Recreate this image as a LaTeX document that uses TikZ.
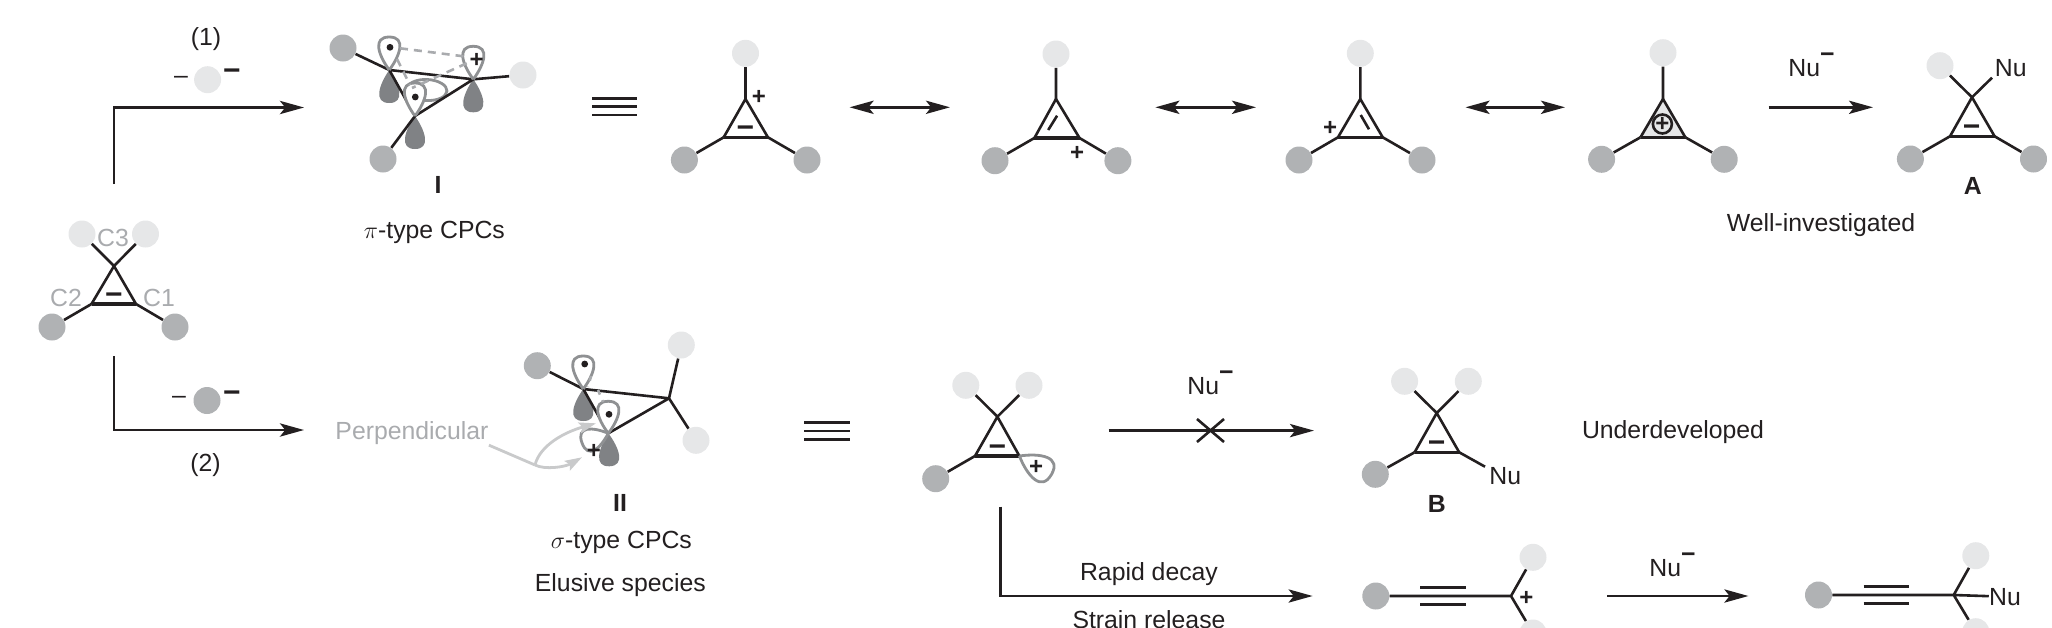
\documentclass[tikz,border=0pt]{standalone}
\usepackage{fontspec}
\setmainfont{Liberation Sans}
\usetikzlibrary{arrows.meta}
\definecolor{ink}{HTML}{231F20}
\definecolor{ltball}{HTML}{E6E7E8}
\definecolor{dkball}{HTML}{B0B2B4}
\definecolor{lobedk}{HTML}{808285}
\definecolor{lobeln}{HTML}{8F9193}
\definecolor{lbl}{HTML}{A9ABAE}
\definecolor{perp}{HTML}{C9CACB}
\tikzset{
  lball/.style={circle,fill=ltball,minimum size=13.5pt,inner sep=0pt},
  dball/.style={circle,fill=dkball,minimum size=13.5pt,inner sep=0pt},
  bond/.style={draw=ink,line width=1.3pt},
  base/.style={draw=ink,line width=1.6pt},
  rxn/.style={draw=ink,line width=1.3pt,-{Stealth[length=12pt,width=6.6pt,inset=2.6pt]}},
  res/.style={draw=ink,line width=1.3pt,{Stealth[length=12pt,width=6.6pt,inset=2.6pt]}-{Stealth[length=12pt,width=6.6pt,inset=2.6pt]}},
  txt/.style={font=\fontsize{12.4}{14}\selectfont,text=ink,inner sep=0pt},
  glbl/.style={font=\fontsize{12.4}{14}\selectfont,text=lbl,inner sep=0pt},
  bld/.style={font=\fontsize{12.4}{14}\selectfont\bfseries,text=ink,inner sep=0pt},
  chargeminus/.style={font=\fontsize{15}{15}\selectfont\bfseries,text=ink,inner sep=0pt,yshift=-1.2pt},
  chargeplus/.style={font=\fontsize{12}{14}\selectfont\bfseries,text=ink,inner sep=0pt,yshift=-1pt},
  lobewhite/.style={fill=white,draw=lobeln,line width=1.4pt},
  lobedark/.style={fill=lobedk},
  gdash/.style={draw=lbl,line width=1.3pt,dash pattern=on 4pt off 3pt},
  parrow/.style={draw=perp,line width=1.4pt,-{Stealth[length=8.5pt,width=5.5pt,inset=1.5pt]}},
  elec/.style={circle,fill=ink,minimum size=3.4pt,inner sep=0pt},
}
\newcommand{\teardrop}[5]{\path[#5,shift={(#1)},rotate=#2] (0,0) .. controls (.45*#3,.55*#4) and (#3,.85*#4) .. (#3,0) .. controls (#3,-.85*#4) and (.45*#3,-.55*#4) .. (0,0);}
\newcommand{\tribar}[4]{% x1, x2, y, gap
  \draw[bond] (#1,#3-#4) -- (#2,#3-#4) (#1,#3+#4) -- (#2,#3+#4);}
\newcommand{\equivsign}[4]{\draw[line width=1.3pt,draw=ink] (#1,#3-#4) -- (#2,#3-#4) (#1,#3) -- (#2,#3) (#1,#3+#4) -- (#2,#3+#4);}
\newcommand{\cprop}[4]{% prefix, apex, left, right
  \coordinate (#1a) at (#2); \coordinate (#1l) at (#3); \coordinate (#1r) at (#4);
  \draw[bond,line join=miter] (#1a) -- (#1l) (#1a) -- (#1r);
  \draw[base] (#1l) -- (#1r);}
\newcommand{\bigminus}[2]{\node[chargeminus] (#1) at (#2) {−};}
\newcommand{\bigplus}[2]{\node[chargeplus] (#1) at (#2) {+};}
\begin{document}
\begin{tikzpicture}[x=0.5pt,y=-0.5pt]
\useasboundingbox (0,0) rectangle (2052,627);
% ---------- starting material
\cprop{s}{114,266}{91.5,304}{136,304}
\node[lball] (s1) at (82,234) {};
\node[lball] (s2) at (145.5,234) {};
\node[dball] (s3) at (52,327) {};
\node[dball] (s4) at (175,327) {};
\draw[bond] (sa) -- (s1) (sa) -- (s2) (sl) -- (s3) (sr) -- (s4);
\node[glbl] (c3) at (113,238) {C3};
\node[glbl] (c2) at (66,298) {C2};
\node[glbl] (c1) at (159,298) {C1};
\bigminus{sm}{114,296}
% ---------- route 1
\coordinate (r1s) at (114,184); \coordinate (r1c) at (114,107.5); \coordinate (r1e) at (304,107.5);
\draw[rxn] (r1s) -- (r1c) -- (r1e);
\node[txt] (t1) at (206,39.5) {(1)};
\node[txt] (d1) at (181,80) {–};
\node[lball] (b1) at (207.6,79.7) {};
\bigminus{m1}{232,72.5}
% ---------- route 2
\coordinate (r2s) at (114,356); \coordinate (r2c) at (114,430); \coordinate (r2e) at (304,430);
\draw[rxn] (r2s) -- (r2c) -- (r2e);
\node[txt] (t2) at (205.5,465.5) {(2)};
\node[txt] (d2) at (179,400) {–};
\node[dball] (b2) at (207,400.5) {};
\bigminus{m2}{232,394.5}
% ---------- species I
\coordinate (Ia) at (389.3,70); \coordinate (Ib) at (473.3,79.3); \coordinate (Ic) at (415,116);
\node[dball] (I1) at (343,48) {};
\node[lball] (I2) at (523,75) {};
\node[dball] (I3) at (383,159) {};
\teardrop{Ia}{-90}{33}{19}{lobedark}
\teardrop{Ib}{-90}{33}{19}{lobedark}
\teardrop{Ic}{-90}{33}{19}{lobedark}
\draw[lobeln,line width=1.4pt,rotate around={-3:(427,90)}] (427,90) ellipse [x radius=20,y radius=10.5];
\draw[bond] (I1) -- (Ia) (Ia) -- (Ib) (Ia) -- (Ic) (Ib) -- (Ic) (Ib) -- (I2) (Ic) -- (I3);
\teardrop{Ia}{90}{33}{20}{lobewhite}
\teardrop{Ib}{90}{33}{20}{lobewhite}
\teardrop{Ic}{90}{33}{20}{lobewhite}
\node[elec] (Id1) at (390,47.3) {};
\node[elec] (Id2) at (415.3,97) {};
\bigplus{Ip}{476.7,58.3}
\coordinate (Ix1) at (400,48.3); \coordinate (Ix2) at (466.7,56.7);
\coordinate (Ix3) at (466.7,63.3); \coordinate (Ix4) at (412,88);
\coordinate (Ix5) at (397,59); \coordinate (Ix6) at (410,85);
\draw[gdash] (Ix1) -- (Ix2) (Ix3) -- (Ix4) (Ix5) -- (Ix6);
\node[bld] (Il) at (438,185) {I};
\node[txt] (Ity) at (434.4,232.5) {$\pi$-type CPCs};
\equivsign{592}{637}{106.7}{8.4}
% ---------- resonance 1
\cprop{p}{745.5,99}{723.7,137.3}{767.9,137.3}
\node[lball] (p1) at (745.5,53.3) {};
\node[dball] (p2) at (684.4,160) {};
\node[dball] (p3) at (807,160) {};
\draw[bond] (pa) -- (p1) (pl) -- (p2) (pr) -- (p3);
\bigplus{pp}{759,95}
\bigminus{pm}{745.5,129.3}
\coordinate (da1) at (849.6,107.3); \coordinate (da2) at (950,107.3);
\draw[res] (da1) -- (da2);
% ---------- resonance 2
\cprop{q}{1056,99}{1034.4,138}{1079.5,138}
\node[lball] (q1) at (1056,54) {};
\node[dball] (q2) at (995,160.7) {};
\node[dball] (q3) at (1117.9,160.7) {};
\draw[bond] (qa) -- (q1) (ql) -- (q2) (qr) -- (q3);
\coordinate (qi1) at (1057.1,115.7); \coordinate (qi2) at (1048.2,130);
\draw[bond] (qi1) -- (qi2);
\bigplus{qp}{1077,151.7}
\coordinate (db1) at (1155.4,107.3); \coordinate (db2) at (1256,107.3);
\draw[res] (db1) -- (db2);
% ---------- resonance 3
\cprop{u}{1360.3,99}{1338,137.3}{1382.7,137.3}
\node[lball] (u1) at (1360.3,53.3) {};
\node[dball] (u2) at (1299,160) {};
\node[dball] (u3) at (1422,160) {};
\draw[bond] (ua) -- (u1) (ul) -- (u2) (ur) -- (u3);
\coordinate (ui1) at (1360.7,115); \coordinate (ui2) at (1369,129.3);
\draw[bond] (ui1) -- (ui2);
\bigplus{up}{1330,126.7}
\coordinate (dc1) at (1465.5,107.3); \coordinate (dc2) at (1565,107.3);
\draw[res] (dc1) -- (dc2);
% ---------- resonance 4
\coordinate (va) at (1663,99); \coordinate (vl) at (1640.5,137.3); \coordinate (vr) at (1685.3,137.3);
\fill[ltball] (va) -- (vl) -- (vr) -- cycle;
\draw[bond] (va) -- (vl) (va) -- (vr);
\draw[base] (vl) -- (vr);
\node[lball] (v1) at (1663,52.7) {};
\node[dball] (v2) at (1601.6,159.3) {};
\node[dball] (v3) at (1724.2,159.3) {};
\draw[bond] (va) -- (v1) (vl) -- (v2) (vr) -- (v3);
\node[circle,draw=ink,line width=1.3pt,minimum size=9.5pt,inner sep=0pt] (vc) at (1662.4,124) {};
\node[chargeplus,yshift=1pt] (vp) at (1662.4,124) {+};
\coordinate (ra1) at (1768.5,107.3); \coordinate (ra2) at (1873,107.3);
\draw[rxn] (ra1) -- (ra2);
\node[txt,anchor=west] (nu1) at (1788,65.3) {Nu\raisebox{7pt}{\textbf{−}}};
% ---------- A
\cprop{w}{1972,97.3}{1950,136.3}{1994.6,136.3}
\node[lball] (w1) at (1940,65.7) {};
\node[txt] (wn) at (2010.7,67.7) {Nu};
\coordinate (wne) at (1992,77.7);
\node[dball] (w2) at (1910.4,159) {};
\node[dball] (w3) at (2033.5,159) {};
\draw[bond] (wa) -- (w1) (wa) -- (wne) (wl) -- (w2) (wr) -- (w3);
\bigminus{wm}{1971.7,128.3}
\node[bld] (wA) at (1972.7,185.7) {A};
\node[txt] (wi) at (1821,224.8) {Well-investigated};
% ---------- species II
\coordinate (Ja) at (583.3,389); \coordinate (Jb) at (669,398.3); \coordinate (Jc) at (608.3,433.3);
\node[dball] (J1) at (537.3,365.7) {};
\node[lball] (J2) at (681.3,345) {};
\node[lball] (J3) at (696,440.3) {};
\teardrop{Ja}{-90}{32}{19}{lobedark}
\teardrop{Jc}{-88}{33}{19}{lobedark}
\draw[bond] (J1) -- (Ja) (Ja) -- (Jb) (Ja) -- (Jc) (Jb) -- (Jc) (Jb) -- (J2) (Jb) -- (J3);
\teardrop{Ja}{90}{33}{20}{lobewhite}
\teardrop{Jc}{90}{32}{20}{lobewhite}
\teardrop{Jc}{-160}{28}{21}{lobewhite}
\node[elec] (Jd1) at (584.7,364) {};
\node[elec] (Jd2) at (609,414.3) {};
\bigplus{Jp}{594,449}
\coordinate (Jx1) at (591,376); \coordinate (Jx2) at (588,387);
\coordinate (Jx3) at (598,390); \coordinate (Jx4) at (603,402);
\draw[gdash,dash pattern=on 2.5pt off 3pt] (Jx1) -- (Jx2) (Jx3) -- (Jx4);
\node[glbl] (perpT) at (412,433.2) {Perpendicular};
\coordinate (pv) at (535,465);
\coordinate (pe1) at (596,423.3); \coordinate (pe2) at (582,457.3);
\draw[draw=perp,line width=1.4pt] (perpT.south east) -- (pv);
\draw[parrow] (pv) .. controls (540,445) and (565,432) .. (pe1);
\draw[parrow] (pv) .. controls (545,470) and (565,467) .. (pe2);
\node[bld] (Jl) at (620,503.3) {II};
\node[txt] (Jty) at (621.4,542.5) {$\sigma$-type CPCs};
\node[txt] (Jel) at (620.4,585.5) {Elusive species};
\equivsign{804}{849.5}{431}{8.3}
% ---------- vinyl cation form
\cprop{k}{997.4,416.7}{975,456}{1019.4,456}
\node[lball] (k1) at (965.8,385.3) {};
\node[lball] (k2) at (1029,385.3) {};
\node[dball] (k3) at (935.7,478.7) {};
\draw[bond] (ka) -- (k1) (ka) -- (k2) (kl) -- (k3);
\teardrop{kr}{-30}{37}{24}{lobewhite}
\bigminus{km}{997.4,448.3}
\bigplus{kp}{1036,465}
\coordinate (xa1) at (1108.5,430.6); \coordinate (xa2) at (1314,430.6);
\draw[rxn] (xa1) -- (xa2);
\coordinate (xc1) at (1197,419); \coordinate (xc2) at (1224,442);
\coordinate (xc3) at (1224,419); \coordinate (xc4) at (1197,442);
\draw[bond] (xc1) -- (xc2) (xc3) -- (xc4);
\node[txt,anchor=west] (nu2) at (1187,383.3) {Nu\raisebox{7pt}{\textbf{−}}};
% ---------- B
\cprop{n}{1436.7,413}{1414.6,452.3}{1459.2,452.3}
\node[lball] (n1) at (1404.6,381.3) {};
\node[lball] (n2) at (1468.3,381.3) {};
\node[dball] (n3) at (1375.3,474.3) {};
\coordinate (nne) at (1485,466.7);
\draw[bond] (na) -- (n1) (na) -- (n2) (nl) -- (n3) (nr) -- (nne);
\node[txt] (nN) at (1505.3,475.7) {Nu};
\bigminus{nm}{1436.7,444}
\node[bld] (nB) at (1436.7,504) {B};
\node[txt] (und) at (1673,432.2) {Underdeveloped};
% ---------- decay
\coordinate (ds) at (1000.5,506.7); \coordinate (dc) at (1000.5,596); \coordinate (de) at (1312.6,596);
\draw[rxn] (ds) -- (dc) -- (de);
\node[txt] (rd) at (1149,574.5) {Rapid decay};
\node[txt] (sr) at (1149,620) {Strain release};
% ---------- alkyne cation
\node[dball] (y1) at (1375.8,596) {};
\coordinate (yc) at (1511,596);
\node[lball] (y2) at (1533,557.3) {};
\node[lball] (y3) at (1533,633) {};
\draw[bond] (y1) -- (yc) (yc) -- (y2) (yc) -- (y3);
\tribar{1420}{1465.5}{596}{8.4}
\bigplus{yp}{1526.4,596}
\coordinate (ya1) at (1607,596); \coordinate (ya2) at (1748.4,596);
\draw[rxn] (ya1) -- (ya2);
\node[txt,anchor=west] (nu3) at (1649,564.6) {Nu\raisebox{7pt}{\textbf{−}}};
% ---------- alkyne product
\node[dball] (z1) at (1818.5,595) {};
\coordinate (zc) at (1953.7,595);
\node[lball] (z2) at (1975.8,555.7) {};
\node[lball] (z3) at (1975.8,631.7) {};
\node[txt] (zN) at (2005,596.7) {Nu};
\draw[bond] (z1) -- (zc) (zc) -- (z2) (zc) -- (z3) (zc) -- (zN);
\tribar{1863.5}{1909}{595}{8.3}
\end{tikzpicture}
\end{document}
